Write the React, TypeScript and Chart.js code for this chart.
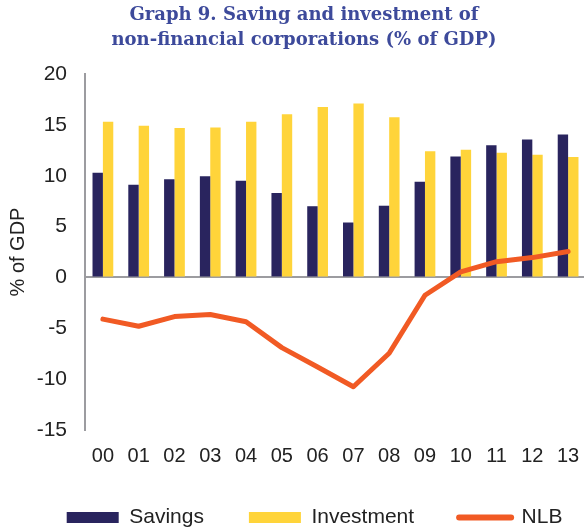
import React, { useEffect, useRef } from "react";
import { Chart, registerables } from "chart.js";

Chart.register(...registerables);

const years = ["00", "01", "02", "03", "04", "05", "06", "07", "08", "09", "10", "11", "12", "13"];
const savings = [10.3, 9.1, 9.65, 9.95, 9.5, 8.3, 7.0, 5.4, 7.05, 9.4, 11.9, 13.0, 13.55, 14.05];
const investment = [15.3, 14.9, 14.7, 14.75, 15.3, 16.05, 16.75, 17.1, 15.75, 12.4, 12.55, 12.25, 12.05, 11.85];
const nlb = [-4.1, -4.8, -3.85, -3.65, -4.35, -6.9, -8.8, -10.75, -7.45, -1.75, 0.55, 1.55, 1.95, 2.55];
const yTicks = [20, 15, 10, 5, 0, -5, -10, -15];

const NAVY = "#29245E";
const YELLOW = "#FFD43A";
const ORANGE = "#F15A24";
const AXIS = "#9c9ca0";
const TEXT = "#222222";
const SANS = "'Liberation Sans', Arial, sans-serif";

export default function App() {
  const ref = useRef<HTMLCanvasElement | null>(null);

  useEffect(() => {
    if (!ref.current) return;
    const chart = new Chart(ref.current, {
      type: "bar",
      data: {
        labels: years,
        datasets: [
          {
            type: "bar",
            label: "Savings",
            data: savings,
            backgroundColor: NAVY,
            borderWidth: 0,
            categoryPercentage: 0.58,
            barPercentage: 1,
            order: 1,
          },
          {
            type: "bar",
            label: "Investment",
            data: investment,
            backgroundColor: YELLOW,
            borderWidth: 0,
            categoryPercentage: 0.58,
            barPercentage: 1,
            order: 1,
          },
          {
            type: "line",
            label: "NLB",
            data: nlb,
            borderColor: ORANGE,
            backgroundColor: ORANGE,
            borderWidth: 5,
            pointRadius: 0,
            tension: 0,
            borderCapStyle: "round",
            borderJoinStyle: "round",
            order: 0,
          },
        ],
      },
      options: {
        responsive: false,
        animation: false,
        devicePixelRatio: 1,
        layout: { padding: { left: 21.7, right: 0, top: 74, bottom: 0 } },
        plugins: {
          title: { display: false },
          tooltip: { enabled: false },
          legend: {
            display: true,
            position: "bottom",
            align: "start",
            labels: {
              usePointStyle: true,
              pointStyleWidth: 52,
              boxWidth: 52,
              boxHeight: 11,
              padding: 45,
              color: TEXT,
              font: { family: SANS, size: 21 },
              sort: (a: any, b: any) => a.datasetIndex - b.datasetIndex,
              generateLabels: (c: any) => {
                const items = Chart.defaults.plugins.legend.labels.generateLabels(c);
                return items.map((it: any) => {
                  if (it.datasetIndex === 2) {
                    return {
                      ...it,
                      pointStyle: "line",
                      lineWidth: 6,
                      lineCap: "round",
                      strokeStyle: ORANGE,
                      fillStyle: ORANGE,
                    };
                  }
                  return { ...it, pointStyle: "rect", lineWidth: 0 };
                });
              },
            },
          },
        },
        scales: {
          x: {
            type: "category",
            offset: true,
            grid: { display: false, drawTicks: false },
            border: { display: false },
            ticks: {
              color: TEXT,
              font: { family: SANS, size: 20 },
              padding: 14,
              maxRotation: 0,
              autoSkip: false,
            },
            afterFit: (s: any) => {
              s.height = 32;
            },
          },
          y: {
            type: "linear",
            position: "left",
            min: -15,
            max: 20,
            afterBuildTicks: (s: any) => {
              s.ticks = yTicks.map((v) => ({ value: v }));
            },
            grid: {
              drawTicks: false,
              color: (ctx: any) => (ctx.tick && ctx.tick.value === 0 ? AXIS : "rgba(0,0,0,0)"),
              lineWidth: 2,
            },
            border: { display: true, color: AXIS, width: 2 },
            ticks: {
              color: TEXT,
              font: { family: SANS, size: 21 },
              padding: 18,
            },
            title: {
              display: true,
              text: "% of GDP",
              color: TEXT,
              font: { family: SANS, size: 20 },
              padding: { top: -15.7, bottom: 0 },
            },
            afterFit: (s: any) => {
              s.width = 85 - 21.7;
            },
          },
          yR: {
            type: "linear",
            position: "right",
            display: true,
            grid: { display: false, drawTicks: false },
            border: { display: false },
            ticks: { display: false },
            afterFit: (s: any) => {
              s.width = 22;
            },
          },
        },
      },
    });
    return () => chart.destroy();
  }, []);

  return (
    <div
      style={{
        position: "fixed",
        top: 0,
        left: 0,
        width: 584,
        height: 530,
        overflow: "hidden",
        background: "#ffffff",
      }}
    >
      <canvas
        ref={ref}
        width={608}
        height={538}
        style={{ position: "absolute", top: 0, left: 0, width: 608, height: 538 }}
      />
      <div
        style={{
          position: "absolute",
          top: 1,
          left: 0,
          width: 608,
          textAlign: "center",
          fontFamily: "'DejaVu Serif', serif",
          fontWeight: "bold",
          fontSize: 18,
          lineHeight: "25px",
          color: "#3D4A9B",
        }}
      >
        Graph 9. Saving and investment of
        <br />
        non-financial corporations (% of GDP)
      </div>
    </div>
  );
}
